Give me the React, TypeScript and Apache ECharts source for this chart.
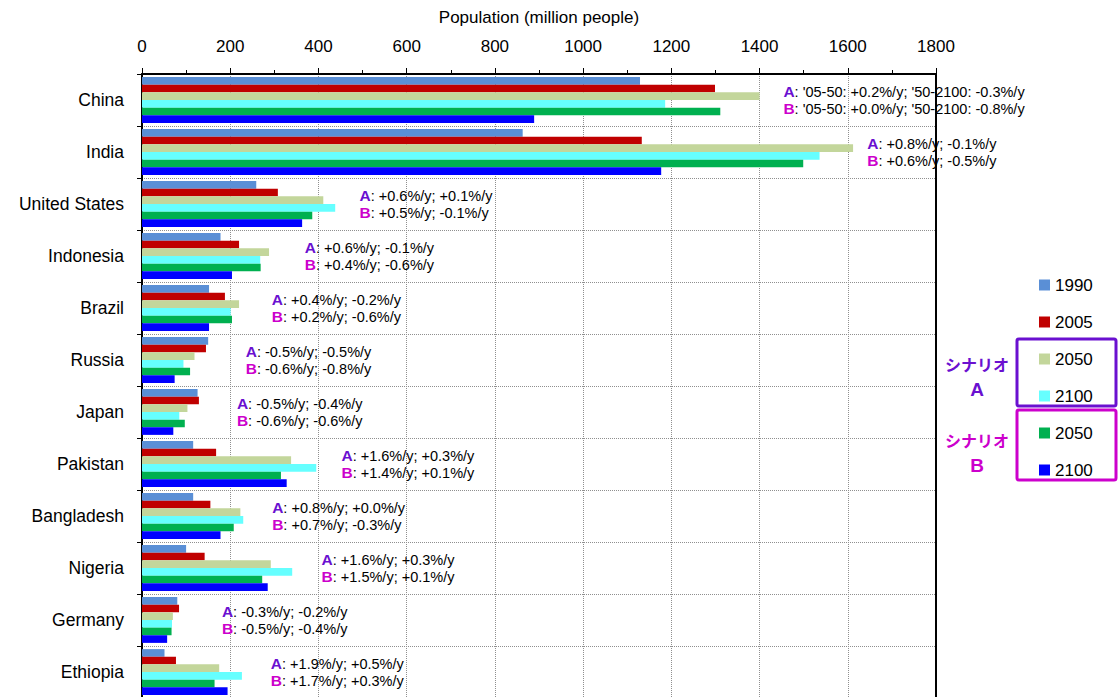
import React, { useEffect, useRef } from "react";
import * as echarts from "echarts";

// Countries, top to bottom
const countries = [
  "China", "India", "United States", "Indonesia", "Brazil", "Russia",
  "Japan", "Pakistan", "Bangladesh", "Nigeria", "Germany", "Ethiopia",
];

// Population in million people
const pop1990 = [1129, 863, 259, 178, 152, 150, 126, 116, 116, 100, 80, 51];
const pop2005 = [1299, 1133, 308, 220, 188, 145, 129, 168, 155, 142, 84, 77];
const pop2050A = [1400, 1612, 411, 288, 220, 119, 103, 338, 223, 292, 70, 175];
const pop2100A = [1186, 1536, 438, 268, 201, 94, 84.5, 395, 229.5, 340.5, 68, 226.5];
const pop2050B = [1311, 1499, 386, 269, 204, 109, 97, 315, 208, 272.5, 67, 164.5];
const pop2100B = [889, 1177, 363, 204, 152, 74, 71, 328, 178, 285, 57, 194];

// Annual growth rates per scenario (2005-2050; 2050-2100)
const rateA = [
  "'05-50: +0.2%/y; '50-2100: -0.3%/y", "+0.8%/y; -0.1%/y", "+0.6%/y; +0.1%/y",
  "+0.6%/y; -0.1%/y", "+0.4%/y; -0.2%/y", "-0.5%/y; -0.5%/y", "-0.5%/y; -0.4%/y",
  "+1.6%/y; +0.3%/y", "+0.8%/y; +0.0%/y", "+1.6%/y; +0.3%/y", "-0.3%/y; -0.2%/y",
  "+1.9%/y; +0.5%/y",
];
const rateB = [
  "'05-50: +0.0%/y; '50-2100: -0.8%/y", "+0.6%/y; -0.5%/y", "+0.5%/y; -0.1%/y",
  "+0.4%/y; -0.6%/y", "+0.2%/y; -0.6%/y", "-0.6%/y; -0.8%/y", "-0.6%/y; -0.6%/y",
  "+1.4%/y; +0.1%/y", "+0.7%/y; -0.3%/y", "+1.5%/y; +0.1%/y", "-0.5%/y; -0.4%/y",
  "+1.7%/y; +0.3%/y",
];
// Where each rate note starts, in population units along the axis
const noteAt = [1453, 1643, 492, 368, 293, 234, 214, 451, 294, 406, 180, 291];

// Axis ticks
const xMin = 0;
const xMax = 1800;
const xStep = 200;

const FONT = "'Liberation Sans', Arial, sans-serif";
const JP = "'Noto Sans CJK JP', sans-serif";
const PURPLE = "#6A10D0";
const MAGENTA = "#CC00CC";

const seriesDefs = [
  { name: "1990", data: pop1990, color: "#5A8FD6" },
  { name: "2005", data: pop2005, color: "#C00000" },
  { name: "2050 A", data: pop2050A, color: "#C3D69B" },
  { name: "2100 A", data: pop2100A, color: "#66FFFF" },
  { name: "2050 B", data: pop2050B, color: "#00B050" },
  { name: "2100 B", data: pop2100B, color: "#0000FF" },
];

export default function App() {
  const ref = useRef<HTMLDivElement>(null);

  useEffect(() => {
    if (!ref.current) return;
    const chart = echarts.init(ref.current, undefined, { renderer: "svg" });

    const dotted = { show: true, lineStyle: { color: "#8f8f8f", type: "dotted" as const, width: 1 } };

    const bars = seriesDefs.map((s) => ({
      type: "bar" as const,
      name: s.name,
      data: s.data,
      barGap: "0%",
      barCategoryGap: "12%",
      itemStyle: { color: s.color },
      silent: true,
    }));

    const notes = {
      type: "scatter" as const,
      name: "notes",
      symbolSize: 1,
      itemStyle: { color: "rgba(0,0,0,0)" },
      silent: true,
      z: 10,
      data: countries.map((c, i) => [noteAt[i], c]),
      label: {
        show: true,
        position: "right" as const,
        distance: 0,
        color: "#000",
        opacity: 1,
        textBorderWidth: 0,
        formatter: (p: any) =>
          `{a|A}{t|: ${rateA[p.dataIndex]}}\n{b|B}{t|: ${rateB[p.dataIndex]}}`,
        rich: {
          a: { color: PURPLE, fontWeight: "bold", fontSize: 15.5, fontFamily: FONT, lineHeight: 17 },
          b: { color: MAGENTA, fontWeight: "bold", fontSize: 15.5, fontFamily: FONT, lineHeight: 17 },
          t: { color: "#000", fontSize: 14.5, fontFamily: FONT, lineHeight: 17 },
        },
      },
    };

    chart.setOption({
      animation: false,
      backgroundColor: "#fff",
      textStyle: { fontFamily: FONT },
      grid: { left: 142, top: 74, width: 794, height: 624, outerBoundsMode: "none", containLabel: false },
      legend: {
        orient: "vertical",
        left: 1034,
        top: 270,
        data: seriesDefs.map((s) => s.name),
        icon: "rect",
        itemWidth: 11,
        itemHeight: 11,
        itemGap: 17,
        formatter: (n: string) => n.slice(0, 4),
        textStyle: { fontSize: 17, lineHeight: 20, color: "#000", fontFamily: FONT },
        selectedMode: false,
      },
      xAxis: {
        type: "value",
        position: "top",
        min: xMin,
        max: xMax,
        interval: xStep,
        name: "Population (million people)",
        nameLocation: "middle",
        nameGap: 48,
        nameTextStyle: { fontSize: 17, color: "#000", fontFamily: FONT },
        axisLine: { show: true, lineStyle: { color: "#000", width: 2 } },
        axisTick: { show: true, length: 6, lineStyle: { color: "#000", width: 1 } },
        minorTick: { show: true, splitNumber: 2, length: 4, lineStyle: { color: "#000", width: 1 } },
        axisLabel: {
          fontSize: 17,
          color: "#000",
          margin: 19,
          fontFamily: FONT,
          formatter: (v: number) => String(v),
        },
        splitLine: dotted,
      },
      yAxis: [
        {
          type: "category",
          data: countries,
          inverse: true,
          axisLine: { show: true, lineStyle: { color: "#000", width: 2 } },
          axisTick: { show: true, length: 5, lineStyle: { color: "#000", width: 1 } },
          axisLabel: { fontSize: 17.5, color: "#000", margin: 18, fontFamily: FONT },
          splitLine: dotted,
        },
        {
          type: "category",
          data: countries,
          inverse: true,
          position: "right",
          axisLine: { show: true, lineStyle: { color: "#000", width: 2 } },
          axisTick: { show: false },
          axisLabel: { show: false },
          splitLine: { show: false },
        },
      ],
      series: [...bars, notes],
      graphic: [
        {
          type: "rect",
          shape: { x: 1017, y: 339, width: 99, height: 67, r: 2 },
          style: { fill: "none", stroke: PURPLE, lineWidth: 3 },
        },
        {
          type: "rect",
          shape: { x: 1017, y: 410, width: 99, height: 70, r: 2 },
          style: { fill: "none", stroke: MAGENTA, lineWidth: 3 },
        },
        {
          type: "text",
          x: 977,
          y: 364,
          style: {
            text: "シナリオ",
            fill: PURPLE,
            font: `bold 16px ${JP}`,
            align: "center",
            verticalAlign: "middle",
          },
        },
        {
          type: "text",
          x: 977,
          y: 389,
          style: {
            text: "A",
            fill: PURPLE,
            font: `bold 19px ${FONT}`,
            align: "center",
            verticalAlign: "middle",
          },
        },
        {
          type: "text",
          x: 977,
          y: 440,
          style: {
            text: "シナリオ",
            fill: MAGENTA,
            font: `bold 16px ${JP}`,
            align: "center",
            verticalAlign: "middle",
          },
        },
        {
          type: "text",
          x: 977,
          y: 465,
          style: {
            text: "B",
            fill: MAGENTA,
            font: `bold 19px ${FONT}`,
            align: "center",
            verticalAlign: "middle",
          },
        },
      ],
    });

    return () => chart.dispose();
  }, []);

  return (
    <div
      ref={ref}
      style={{ position: "fixed", left: 0, top: 0, width: 1118, height: 697, background: "#fff" }}
    />
  );
}
